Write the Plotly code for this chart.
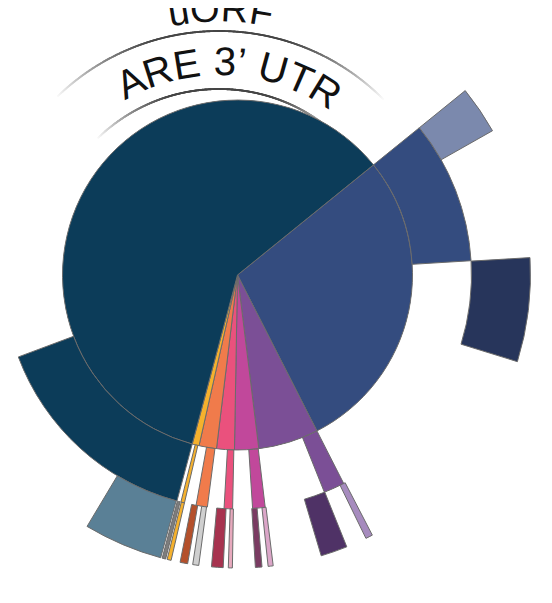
import numpy as np
import plotly.graph_objects as go

W, H = 552, 603
OFF = 8                      # browser body margin: the figure starts 8px in
CX, CY = 237.5, 275          # centre of the rings, page px
RING = [0, 175, 234, 293]    # radial edges of the three rings

# inner ring: one wedge per group, angular span in degrees (clockwise from 51 deg)
INNER_START = 51
INNER_GROUP = ["blue", "purple", "magenta", "pink", "orange", "yellow", "navy"]
INNER_SPAN = [102, 20, 8, 5.9, 5.8, 2.3, 216]
INNER_COLOR = ["#344c7f", "#7b4f96", "#c1489b", "#ea517d", "#f07b4b", "#f5b12d", "#0c3c59"]

# middle ring: start / end bearing of each segment
MID_GROUP = ["blue", "purple", "magenta", "pink", "orange", "yellow", "navy"]
MID_FROM = [51, 153, 173.2, 181.2, 187.4, 193.1, 195]
MID_TO = [86.5, 158.2, 176.3, 183.3, 190.2, 194.0, 249.5]
MID_COLOR = ["#344c7f", "#7b4f96", "#c1489b", "#ea517d", "#f07b4b", "#f5b12d", "#0c3c59"]

# outer ring
OUTER_GROUP = ["blue", "blue", "purple", "purple", "magenta", "magenta", "pink", "pink",
               "orange", "orange", "yellow", "yellow", "navy"]
OUTER_FROM = [51, 86.6, 152.6, 158.1, 173.0, 175.2, 181.0, 182.8, 187.6, 189.8, 193.1, 194.2, 195.2]
OUTER_TO = [60.5, 107.2, 154.0, 163.4, 174.0, 176.5, 181.8, 185.1, 188.8, 191.3, 193.9, 194.9, 210.9]
OUTER_COLOR = ["#7b89ad", "#27355b", "#a68bbe", "#4f3266", "#dba6c8", "#7a3b62", "#e7a9bd",
               "#a7334f", "#cfcfcf", "#b4502b", "#f5b12d", "#7d7d7d", "#5a8096"]

LABEL_OUTER = "uORF"
LABEL_INNER = "ARE 3\u2019 UTR"

EDGE = dict(color="#6b6b6b", width=1)


def sector_bbox(a0, a1):
    # same rule plotly uses to fit a polar sector into its domain
    arc = a1 - a0
    a0 = a0 % 360
    a1 = a0 + arc
    def inside(a):
        return (a0 <= a <= a1) or (a0 <= a + 360 <= a1)
    xs = [0, np.cos(np.radians(a0)), np.cos(np.radians(a1))]
    ys = [0, np.sin(np.radians(a0)), np.sin(np.radians(a1))]
    x0 = -1 if inside(180) else min(xs)
    x1 = 1 if inside(0) or inside(360) else max(xs)
    y0 = -1 if inside(270) else min(ys)
    y1 = 1 if inside(90) else max(ys)
    return x0, y0, x1, y1


def polar_domain(radius, sector):
    x0, y0, x1, y1 = sector_bbox(*sector)
    cx, cy = CX - OFF, CY - OFF
    return dict(x=[(cx + radius * x0) / W, (cx + radius * x1) / W],
                y=[1 - (cy - radius * y0) / H, 1 - (cy - radius * y1) / H])


def wedges(start, end, r0, r1, colors, subplot):
    start, end = np.array(start), np.array(end)
    return go.Barpolar(
        theta=(start + end) / 2, width=end - start,
        base=[r0] * len(start), r=[r1 - r0] * len(start),
        marker=dict(color=colors, line=EDGE),
        subplot=subplot, hoverinfo="skip", showlegend=False,
    )


fig = go.Figure()

inner_to = INNER_START + np.cumsum(INNER_SPAN)
inner_from = inner_to - np.array(INNER_SPAN)
fig.add_trace(wedges(inner_from, inner_to, RING[0], RING[1], INNER_COLOR, "polar"))
fig.add_trace(wedges(MID_FROM, MID_TO, RING[1], RING[2], MID_COLOR, "polar2"))
fig.add_trace(wedges(OUTER_FROM, OUTER_TO, RING[2], RING[3], OUTER_COLOR, "polar3"))

# label arcs (own centre, a little up-left of the rings)
LX, LY = 219, 263
for rad in [232, 174]:
    b = np.linspace(-44, 45, 700)
    t = np.abs(np.linspace(-1, 1, len(b)))
    fade = np.clip((t - 0.35) / 0.65, 0, 1) ** 1.4
    grey = (70 + 180 * fade).astype(int)
    fig.add_trace(go.Scatter(
        x=LX + rad * np.sin(np.radians(b)), y=LY - rad * np.cos(np.radians(b)),
        mode="markers", marker=dict(size=1.9, color=[f"rgb({g},{g},{g})" for g in grey]),
        hoverinfo="skip", showlegend=False,
    ))

CHAR_W = {"A": .667, "R": .722, "E": .667, " ": .278, "3": .556, "\u2019": .222,
          "U": .722, "T": .611, "u": .556, "O": .778, "F": .611}


def arc_text(text, r_base, mid, size):
    widths = [CHAR_W[c] * size for c in text]
    s = -sum(widths) / 2
    out = []
    rc = r_base + 0.35 * size
    for c, w in zip(text, widths):
        ang = mid + np.degrees((s + w / 2) / r_base)
        s += w
        if c == " ":
            continue
        px = LX + rc * np.sin(np.radians(ang))
        py = LY - rc * np.cos(np.radians(ang))
        # paper coordinates, so letters above the top edge are still drawn
        out.append(dict(
            x=(px - OFF) / W, y=1 - (py - OFF) / H,
            xref="paper", yref="paper", text=c, textangle=ang, showarrow=False,
            xanchor="center", yanchor="middle",
            font=dict(size=size, family="Liberation Sans, Arial", color="#111111"),
        ))
    return out


annotations = arc_text(LABEL_OUTER, 241, 0.3, 38) + arc_text(LABEL_INNER, 188, 3, 40)

polar_common = dict(
    bgcolor="rgba(0,0,0,0)", barmode="overlay",
    angularaxis=dict(visible=False, rotation=90, direction="clockwise"),
)
polars = {}
for name, rmax, sector in [("polar", RING[1] + 1, (0, 360)),
                           ("polar2", RING[2] + 1, (-160, 40)),
                           ("polar3", RING[3] + 2, (-125, 45))]:
    polars[name] = dict(domain=polar_domain(rmax, sector), sector=list(sector),
                        radialaxis=dict(visible=False, range=[0, rmax]), **polar_common)

fig.update_layout(
    width=W, height=H, margin=dict(l=0, r=0, t=0, b=0),
    paper_bgcolor="white", plot_bgcolor="white",
    # overlay axes in page pixels, used for the label arcs
    xaxis=dict(range=[OFF, W + OFF], visible=False, domain=[0, 1]),
    yaxis=dict(range=[H + OFF, OFF], visible=False, domain=[0, 1]),
    annotations=annotations,
    showlegend=False,
    **polars,
)

fig.write_html("out.html")
